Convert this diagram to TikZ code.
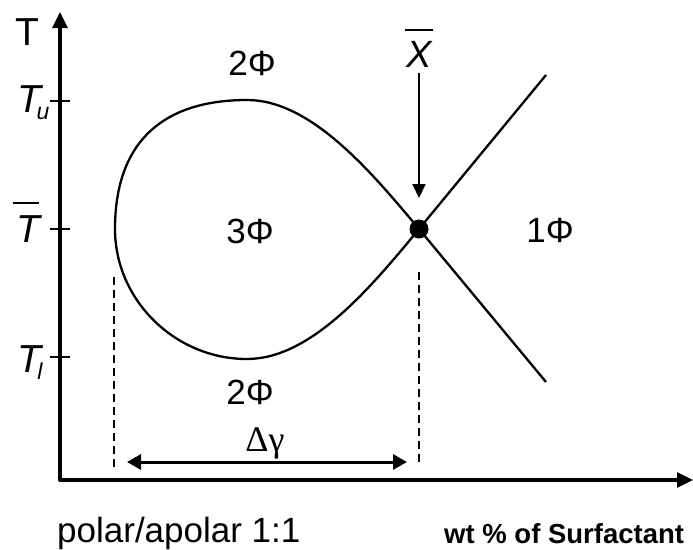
\documentclass[tikz,border=0pt]{standalone}
\usepackage{fontspec}
\setmainfont{Liberation Sans}
\newfontfamily\serifgreek{Liberation Serif}
\usetikzlibrary{arrows.meta}
\tikzset{
  axisline/.style={line width=3.2pt, -{Triangle[length=16pt,width=15pt]}, line cap=round, line join=round},
  tickline/.style={line width=2.4pt},
  curveline/.style={line width=2.3pt},
  dashline/.style={line width=2.6pt, dash pattern=on 8pt off 5pt},
  lbl/.style={inner sep=0pt, anchor=base, font=\fontsize{35}{40}\selectfont},
  axlbl/.style={inner sep=0pt, anchor=base, font=\fontsize{39}{44}\selectfont\itshape},
}
\begin{document}
\begin{tikzpicture}[x=1pt,y=-1pt]
\useasboundingbox (0,0) rectangle (693,549);
% axes
\coordinate (O) at (60,480);
\coordinate (Ytip) at (60,12);
\coordinate (Xtip) at (693,480);
\draw[axisline] (Xtip -| O) -- (Ytip);
\draw[axisline] (O) -- (Xtip);
% ticks
\coordinate (tu) at (60,101);
\coordinate (tb) at (60,229);
\coordinate (tl) at (60,357);
\foreach \t in {tu,tb,tl} \draw[tickline] ([xshift=-10pt]\t) -- ([xshift=10pt]\t);
% axis labels
\node[lbl, font=\fontsize{39}{44}\selectfont] (Tlab) at (27,45) {T};
\node[axlbl] (Tu) at (29,112) {T};
\node[inner sep=0pt, anchor=base, font=\fontsize{23}{26}\selectfont\itshape] (usub) at (43,119) {u};
\node[axlbl] (Tbar) at (28,242) {T};
\draw[line width=2pt] (13,203) -- (39,203);
\node[axlbl] (Tl) at (29,372) {T};
\node[inner sep=0pt, anchor=base, font=\fontsize{23}{26}\selectfont\itshape] (lsub) at (40,379) {l};
% crossing point
\node[circle, fill=black, inner sep=0pt, minimum size=19pt] (X) at (419,229) {};
\coordinate (UR) at (546,75);
\coordinate (LR) at (546,382);
\draw[curveline] (X.center) -- (UR);
\draw[curveline] (X.center) -- (LR);
% loop
\draw[curveline] (X.center) .. controls (369,169) and (310,100) .. (247,100)
  .. controls (165,100) and (115,140) .. (115,229)
  .. controls (115,300) and (175,359) .. (247,359)
  .. controls (310,359) and (369,290) .. (X.center);
% X bar label and arrow
\node[axlbl, font=\fontsize{38}{42}\selectfont\itshape] (Xlab) at (419,67) {X};
\draw[line width=2pt] (405,30) -- (433,30);
\coordinate (Xa) at (419,73);
\coordinate (Xb) at (419,198);
\draw[line width=2pt, -{Triangle[length=14pt,width=13pt]}] (Xa) -- (Xb);
% phase labels
\node[lbl] (p2t) at (252,75) {2Φ};
\node[lbl] (p3) at (250,243) {3Φ};
\node[lbl] (p1) at (550,242) {1Φ};
\node[lbl] (p2b) at (250,404) {2Φ};
% dashed lines
\coordinate (dl1) at (114,277); \coordinate (dl2) at (114,467);
\coordinate (dr1) at (419,272); \coordinate (dr2) at (419,462);
\draw[dashline] (dl1) -- (dl2);
\draw[dashline] (dr1) -- (dr2);
% delta gamma arrow
\coordinate (ga) at (127,462); \coordinate (gb) at (407,462);
\draw[line width=3pt, {Triangle[length=14pt,width=15pt]}-{Triangle[length=14pt,width=15pt]}] (ga) -- (gb);
\node[inner sep=0pt, anchor=base, font=\fontsize{36}{40}\selectfont\serifgreek] (dg) at (265,451) {Δγ};
% bottom texts
\node[inner sep=0pt, anchor=base west, font=\fontsize{35}{40}\selectfont] (polar) at (57,542) {polar/apolar 1:1};
\node[inner sep=0pt, anchor=base west, text depth=0pt, font=\fontsize{27.5}{32}\selectfont\bfseries] (wt) at (444,543) {wt \% of Surfactant};
\end{tikzpicture}
\end{document}
